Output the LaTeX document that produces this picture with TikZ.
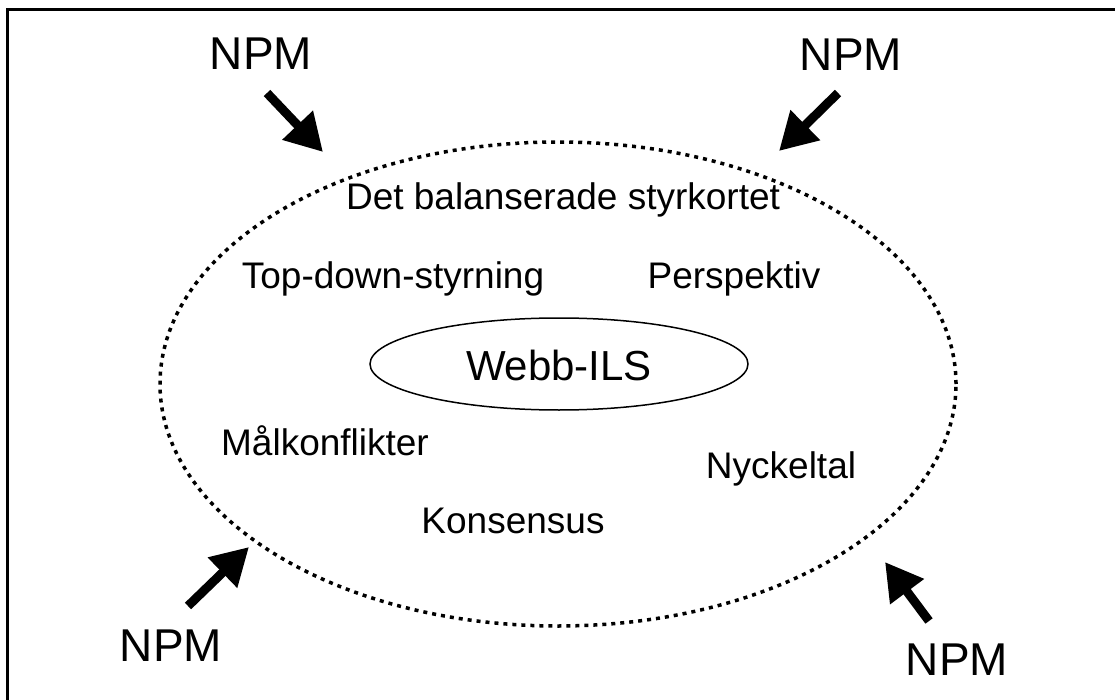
\documentclass[tikz,border=0pt]{standalone}
\usepackage{fontspec}
\setmainfont{Liberation Sans}
\usetikzlibrary{arrows.meta}
\tikzset{
  npm/.style={font=\fontsize{46}{50}\selectfont, inner sep=0pt},
  topic/.style={font=\fontsize{37}{42}\selectfont, inner sep=0pt},
  core/.style={font=\fontsize{42}{46}\selectfont, inner sep=0pt},
  push/.style={line width=9pt, -{Triangle[length=37pt,width=40pt]}},
  field/.style={line width=3.5pt, dash pattern=on 4pt off 5pt},
}
\begin{document}
\begin{tikzpicture}[x=1pt,y=-1pt]
\useasboundingbox (0,0) rectangle (1115,700);
\begin{scope}
\clip (0,0) rectangle (1115,700);
\draw[line width=3pt] (7,10) rectangle (1130,720);
\end{scope}

% influence field around the core
\draw[field] (558,384) ellipse [x radius=398pt, y radius=242pt];

% core
\node[core] (webb) at (559,365) {Webb-ILS};
\draw[line width=1.5pt] (559,364) ellipse [x radius=189pt, y radius=46pt];

% topics inside the field
\node[topic] (bsc)  at (563,200) {Det balanserade styrkortet};
\node[topic] (top)  at (393,279) {Top-down-styrning};
\node[topic] (persp) at (734,279) {Perspektiv};
\node[topic] (mal)  at (325,441) {Målkonflikter};
\node[topic] (nyck) at (781,469) {Nyckeltal};
\node[topic] (kons) at (513,521) {Konsensus};

% NPM pressures
\node[npm] (n1) at (261,54) {NPM};
\node[npm] (n2) at (851,55) {NPM};
\node[npm] (n3) at (171,646) {NPM};
\node[npm] (n4) at (957,660) {NPM};

\coordinate (t1) at (267,93);  \coordinate (h1) at (323,152);
\coordinate (t2) at (838,93);  \coordinate (h2) at (779,151);
\coordinate (t3) at (188,606); \coordinate (h3) at (249,547);
\coordinate (t4) at (929,621); \coordinate (h4) at (885,562);
\draw[push] (t1) -- (h1);
\draw[push] (t2) -- (h2);
\draw[push] (t3) -- (h3);
\draw[push] (t4) -- (h4);
\end{tikzpicture}
\end{document}
